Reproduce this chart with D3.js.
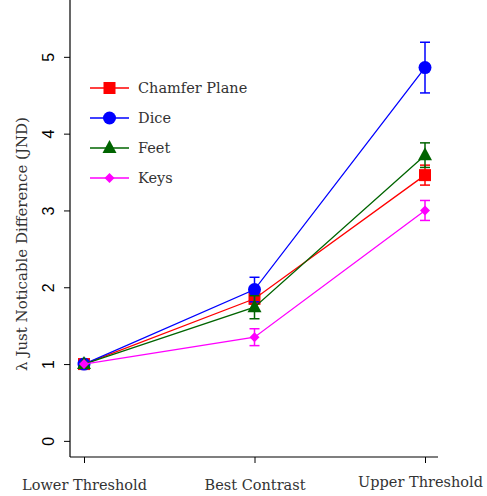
<!DOCTYPE html>
<html><head><meta charset="utf-8">
<script src="https://cdn.jsdelivr.net/npm/d3@7"></script>
<style>body{margin:0;background:#fff} .serif{font-family:"DejaVu Serif"}</style>
</head><body>
<svg id="c" width="487" height="496"></svg>
<script>
const categories = ["Lower Threshold", "Best Contrast", "Upper Threshold"];
const seriesNames = ["Chamfer Plane", "Dice", "Feet", "Keys"];
const chamferValues = [1.0, 1.85, 3.46];
const chamferErr = [0, 0.07, 0.13];
const diceValues = [1.0, 1.97, 4.86];
const diceErr = [0, 0.16, 0.33];
const feetValues = [1.0, 1.74, 3.72];
const feetErr = [0, 0.15, 0.16];
const keysValues = [1.0, 1.35, 3.0];
const keysErr = [0, 0.11, 0.13];
const yTicks = [0, 1, 2, 3, 4, 5];
const colors = ["#ff0000", "#0000ff", "#006400", "#ff00ff"];
const shapes = ["square", "circle", "triangle", "diamond"];

const series = [
  {name: seriesNames[0], v: chamferValues, e: chamferErr, color: colors[0], shape: shapes[0]},
  {name: seriesNames[1], v: diceValues, e: diceErr, color: colors[1], shape: shapes[1]},
  {name: seriesNames[2], v: feetValues, e: feetErr, color: colors[2], shape: shapes[2]},
  {name: seriesNames[3], v: keysValues, e: keysErr, color: colors[3], shape: shapes[3]}
];

const svg = d3.select("#c");
const x = d3.scalePoint().domain(categories).range([84, 425]);
const y = d3.scaleLinear().domain([-0.21, 5.74]).range([457, 0]);

const sans = "Liberation Sans, Arial, sans-serif";
const textFill = "#333";

// axes
const yAxis = svg.append("g").attr("transform", "translate(70,0)")
  .call(d3.axisLeft(y).tickValues(yTicks).tickFormat(d3.format("d")).tickSize(6).tickPadding(4));
yAxis.attr("font-family", null);
yAxis.select(".domain").attr("d", "M0,0V457").attr("stroke", "#000").attr("stroke-width", 1.2);
yAxis.selectAll(".tick line").attr("stroke", "#000");
yAxis.selectAll(".tick text")
  .style("font-family", sans).style("font-size", "16px").attr("fill", "#000")
  .attr("text-anchor", "middle")
  .attr("transform", "translate(-22,0) rotate(-90)")
  .attr("x", 0).attr("dy", "0.35em").attr("y", 0);

const xAxis = svg.append("g").attr("transform", "translate(0,457)")
  .call(d3.axisBottom(x).tickSize(6).tickPadding(17));
xAxis.attr("font-family", null);
xAxis.select(".domain").attr("d", "M70,0H438").attr("stroke", "#000").attr("stroke-width", 1.2);
xAxis.selectAll(".tick line").attr("stroke", "#000");
xAxis.selectAll(".tick text").attr("class", "serif").style("font-size", "14.5px").attr("fill", textFill)
  .attr("dx", (d, i) => i === 2 ? -5 : 0).attr("dy", (d, i) => i === 2 ? "0.5em" : "0.7em");

svg.append("text")
  .attr("class", "serif")
  .attr("transform", "translate(27,244) rotate(-90)")
  .attr("text-anchor", "middle")
  .style("font-size", "15px").attr("fill", textFill)
  .text("λ Just Noticable Difference (JND)");

function marker(g, shape, color, cx, cy) {
  if (shape === "square") {
    g.append("rect").attr("x", cx - 6).attr("y", cy - 6).attr("width", 12).attr("height", 12).attr("fill", color);
  } else if (shape === "circle") {
    g.append("circle").attr("cx", cx).attr("cy", cy).attr("r", 6.5).attr("fill", color);
  } else if (shape === "triangle") {
    g.append("path").attr("d", `M${cx},${cy-8}L${cx+7},${cy+5}L${cx-7},${cy+5}Z`).attr("fill", color);
  } else {
    g.append("path").attr("d", `M${cx},${cy-5}L${cx+5},${cy}L${cx},${cy+5}L${cx-5},${cy}Z`).attr("fill", color);
  }
}

const line = d3.line().x((d, i) => x(categories[i])).y(d => y(d));

series.forEach(s => {
  const g = svg.append("g");
  g.append("path").attr("d", line(s.v)).attr("fill", "none").attr("stroke", s.color).attr("stroke-width", 1.3);
  s.v.forEach((v, i) => {
    if (s.e[i] > 0) {
      const cx = x(categories[i]);
      const y1 = y(v + s.e[i]), y2 = y(v - s.e[i]);
      g.append("line").attr("x1", cx).attr("x2", cx).attr("y1", y1).attr("y2", y2).attr("stroke", s.color).attr("stroke-width", 1.5);
      [y1, y2].forEach(yy => g.append("line").attr("x1", cx - 5).attr("x2", cx + 5).attr("y1", yy).attr("y2", yy).attr("stroke", s.color).attr("stroke-width", 1.5));
    }
    marker(g, s.shape, s.color, x(categories[i]), y(v));
  });
});

// legend
const leg = svg.append("g");
const legY = d3.scalePoint().domain(seriesNames).range([88, 178]);
series.forEach(s => {
  const ly = legY(s.name);
  leg.append("line").attr("x1", 90).attr("x2", 129).attr("y1", ly).attr("y2", ly).attr("stroke", s.color).attr("stroke-width", 1.3);
  marker(leg, s.shape, s.color, 109.5, ly);
  leg.append("text").attr("class", "serif").attr("x", 138).attr("y", ly).attr("dy", "0.35em")
    .style("font-size", "14.5px").attr("fill", textFill).text(s.name);
});
</script>
</body></html>
